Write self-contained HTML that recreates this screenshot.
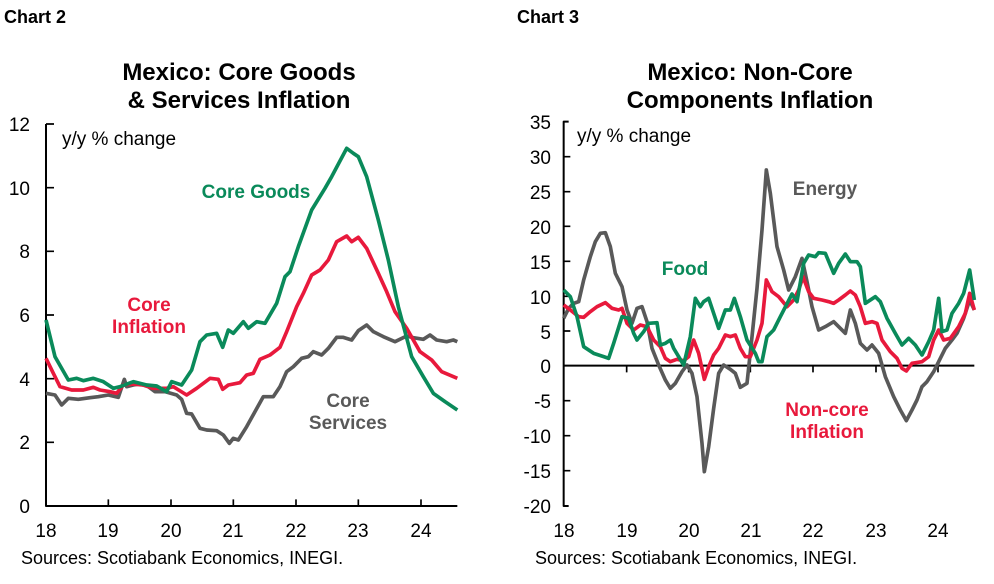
<!DOCTYPE html>
<html><head><meta charset="utf-8"><style>
body{margin:0;background:#fff;width:994px;height:579px;overflow:hidden}
svg{font-family:"Liberation Sans",Arial,sans-serif}
</style></head><body>
<svg width="994" height="579" viewBox="0 0 994 579" xmlns="http://www.w3.org/2000/svg">
<text x="4" y="23" font-size="18" font-weight="bold">Chart 2</text>
<text x="517" y="23" font-size="18" font-weight="bold">Chart 3</text>
<text x="239" y="80" font-size="24" font-weight="bold" text-anchor="middle">Mexico: Core Goods</text>
<text x="239" y="108" font-size="24" font-weight="bold" text-anchor="middle">&amp; Services Inflation</text>
<text x="750" y="80" font-size="24" font-weight="bold" text-anchor="middle">Mexico: Non-Core</text>
<text x="750" y="108" font-size="24" font-weight="bold" text-anchor="middle">Components Inflation</text>

<g transform="translate(0,110) scale(0.33333)" fill="none" stroke-linejoin="round">
<path d="M138 42V1188H1372" stroke="#000" stroke-width="6"/>
<path d="M138 42h24M138 233h24M138 424h24M138 615h24M138 806h24M138 997h24M325 1188v-20M513 1188v-20M700 1188v-20M888 1188v-20M1075 1188v-20M1263 1188v-20" stroke="#000" stroke-width="5"/>
<polyline stroke="#595959" stroke-width="11" points="138,850 165,855 185,885 205,865 235,868 270,863 295,860 325,855 355,862 373,808 380,830 400,825 420,822 445,830 465,845 495,845 530,855 545,868 560,910 575,912 600,955 620,960 650,962 670,975 688,1000 700,985 715,990 740,950 765,905 790,860 820,860 840,830 860,785 880,770 905,745 925,740 940,725 965,735 985,715 1010,682 1030,682 1055,690 1075,662 1100,645 1120,665 1150,680 1185,695 1220,678 1240,683 1270,688 1290,675 1310,690 1340,695 1360,690 1372,695"/>
<polyline stroke="#e8193c" stroke-width="11" points="138,745 160,790 180,830 215,840 250,840 280,832 300,840 330,845 350,850 370,825 400,822 430,825 460,835 500,835 520,830 560,855 590,835 630,805 655,808 668,838 685,825 720,818 740,795 760,790 780,748 810,735 840,712 860,665 890,590 910,550 935,495 960,480 985,450 1010,395 1040,378 1055,395 1075,382 1100,415 1135,490 1160,545 1185,605 1220,655 1260,725 1295,750 1325,785 1372,805"/>
<polyline stroke="#0a8a5a" stroke-width="11" points="138,630 165,740 205,810 230,805 250,812 280,805 310,815 340,835 360,830 400,815 440,825 470,828 500,845 515,815 545,825 575,780 600,695 620,675 650,670 668,712 685,660 700,670 730,635 745,655 770,635 795,640 830,580 855,500 870,485 895,410 935,300 975,235 995,200 1040,115 1060,130 1075,140 1100,200 1135,330 1165,450 1195,590 1235,740 1270,800 1300,850 1335,875 1372,900"/>
</g>
<g font-size="19" fill="#000">
<text x="30" y="131" text-anchor="end">12</text><text x="30" y="195" text-anchor="end">10</text><text x="30" y="258" text-anchor="end">8</text><text x="30" y="322" text-anchor="end">6</text><text x="30" y="386" text-anchor="end">4</text><text x="30" y="449" text-anchor="end">2</text><text x="30" y="513" text-anchor="end">0</text>
<text x="46" y="537" text-anchor="middle">18</text><text x="108" y="537" text-anchor="middle">19</text><text x="171" y="537" text-anchor="middle">20</text><text x="233" y="537" text-anchor="middle">21</text><text x="296" y="537" text-anchor="middle">22</text><text x="358" y="537" text-anchor="middle">23</text><text x="421" y="537" text-anchor="middle">24</text>
<text x="62" y="145" font-size="19">y/y % change</text>
<text x="21" y="564" font-size="18">Sources: Scotiabank Economics, INEGI.</text>
</g>
<g font-size="19" font-weight="bold" text-anchor="middle">
<text x="256" y="198" fill="#0a8a5a">Core Goods</text>
<text x="149" y="311" fill="#e8193c">Core</text><text x="149" y="333" fill="#e8193c">Inflation</text>
<text x="348" y="407" fill="#595959">Core</text><text x="348" y="429" fill="#595959">Services</text>
</g>

<g transform="translate(497,110) scale(0.33333)" fill="none" stroke-linejoin="round">
<path d="M215 35H200V1188H215" stroke="#000" stroke-width="6"/>
<path d="M200 140h20M200 245h20M200 349h20M200 454h20M200 559h20M200 663h20M200 872h20M200 977h20M200 1082h20" stroke="#000" stroke-width="5"/>
<path d="M200 767H1432" stroke="#000" stroke-width="6"/>
<path d="M389 767v20M575 767v20M760 767v20M948 767v20M1137 767v20M1323 767v20" stroke="#000" stroke-width="5"/>
<polyline stroke="#595959" stroke-width="11" points="200,625 215,595 230,580 245,575 260,510 280,440 295,395 310,370 325,368 340,410 355,490 375,530 390,600 405,640 420,595 435,590 450,635 465,715 485,765 505,810 520,835 535,820 555,785 570,765 585,790 600,860 615,1000 622,1085 635,1010 650,895 665,790 680,765 700,778 715,790 730,832 750,820 765,680 780,535 795,360 808,180 820,250 830,330 840,410 860,480 875,540 895,500 915,445 930,515 945,590 965,660 985,650 1010,635 1025,650 1045,670 1060,600 1075,640 1090,700 1110,720 1125,705 1145,730 1165,800 1190,860 1210,900 1228,932 1245,900 1260,870 1275,830 1290,815 1310,785 1325,755 1345,715 1365,690 1380,670 1400,625 1418,570 1432,600"/>
<polyline stroke="#e8193c" stroke-width="11" points="200,585 220,600 245,620 260,622 280,605 300,590 325,578 345,595 365,600 375,595 390,640 410,660 430,645 450,650 470,690 490,710 505,745 520,755 540,748 560,752 575,740 590,690 605,730 622,808 635,770 650,735 665,715 685,675 700,680 715,675 730,715 745,740 760,740 780,690 795,640 808,510 825,545 845,560 870,590 890,570 905,540 918,500 935,545 950,565 975,570 995,575 1010,580 1025,570 1045,555 1060,543 1075,555 1090,590 1105,640 1125,635 1140,640 1155,690 1180,725 1200,745 1215,775 1228,783 1245,760 1275,755 1295,740 1310,690 1325,660 1340,690 1360,685 1385,650 1405,610 1418,550 1432,600"/>
<polyline stroke="#0a8a5a" stroke-width="11" points="200,540 220,560 240,620 260,710 290,730 320,740 335,745 350,700 375,620 395,625 410,670 420,690 440,665 455,640 480,638 490,705 505,700 520,690 530,715 560,765 580,680 595,565 610,590 620,575 635,565 665,655 685,600 700,600 712,565 730,620 750,690 775,730 785,755 795,755 810,680 830,660 850,620 885,552 900,575 920,460 935,435 955,440 965,428 985,430 1010,490 1025,460 1045,432 1060,455 1080,455 1090,470 1105,580 1135,560 1150,575 1170,625 1195,670 1215,705 1235,685 1255,705 1275,735 1295,695 1310,660 1325,565 1335,665 1350,660 1365,610 1385,580 1400,550 1418,480 1432,570"/>
</g>
<g font-size="19" fill="#000" text-anchor="end">
<text x="551" y="129">35</text><text x="551" y="164">30</text><text x="551" y="199">25</text><text x="551" y="234">20</text><text x="551" y="269">15</text><text x="551" y="304">10</text><text x="551" y="339">5</text><text x="551" y="373">0</text><text x="551" y="408">-5</text><text x="551" y="443">-10</text><text x="551" y="478">-15</text><text x="551" y="513">-20</text>
</g>
<g font-size="19" text-anchor="middle">
<text x="564" y="537">18</text><text x="627" y="537">19</text><text x="689" y="537">20</text><text x="751" y="537">21</text><text x="813" y="537">22</text><text x="876" y="537">23</text><text x="938" y="537">24</text>
</g>
<text x="577" y="142" font-size="19">y/y % change</text>
<text x="535" y="564" font-size="18">Sources: Scotiabank Economics, INEGI.</text>
<g font-size="19" font-weight="bold" text-anchor="middle">
<text x="825" y="195" fill="#595959">Energy</text>
<text x="685" y="275" fill="#0a8a5a">Food</text>
<text x="827" y="416" fill="#e8193c">Non-core</text><text x="827" y="438" fill="#e8193c">Inflation</text>
</g>
</svg>
</body></html>
